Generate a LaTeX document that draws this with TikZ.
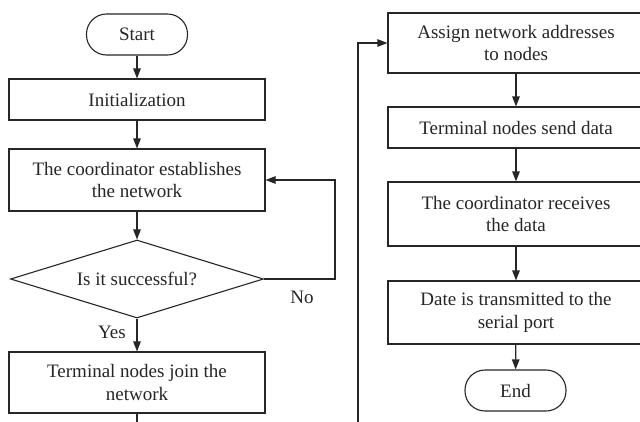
\documentclass[tikz,border=0pt]{standalone}
\usepackage{fontspec}
\setmainfont{Liberation Serif}
\usetikzlibrary{arrows.meta,shapes.geometric}
\begin{document}
\begin{tikzpicture}[x=1pt,y=-1pt,
  every node/.style={font=\fontsize{19}{22.5}\selectfont, text=black!85},
  procbox/.style={draw=black!85, line width=1.1pt, rectangle, minimum width=256pt, align=center, inner sep=0pt},
  termbox/.style={draw=black!85, line width=1.1pt, rectangle, rounded corners=20pt, minimum width=101pt, minimum height=41pt, inner sep=0pt},
  decbox/.style={draw=black!85, line width=1.1pt, diamond, aspect=3.24, minimum width=253pt, minimum height=78pt, inner sep=0pt},
  flow/.style={draw=black!85, line width=1.1pt, -{Triangle[length=10pt,width=7.5pt]}},
  lbl/.style={inner sep=0pt}
]
\useasboundingbox (0,0) rectangle (640,421);
\clip (0,0) rectangle (640,421);
\fill[white] (0,0) rectangle (640,421);

% left column
\node[termbox] (start) at (137,34.5) {Start};
\node[procbox, minimum height=41pt] (init) at (137,99.5) {Initialization};
\node[procbox, minimum height=62pt] (estab) at (137,180) {The coordinator establishes\\the network};
\node[decbox] (dec) at (137,279) {Is it successful?};
\node[procbox, minimum height=61pt] (join) at (137,382.5) {Terminal nodes join the\\network};

% right column
\node[procbox, minimum height=60pt] (assign) at (516,43) {Assign network addresses\\to nodes};
\node[procbox, minimum height=41pt] (send) at (516,127.5) {Terminal nodes send data};
\node[procbox, minimum height=64pt] (recv) at (516,214) {The coordinator receives\\the data};
\node[procbox, minimum height=63pt] (date) at (516,312.5) {Date is transmitted to the\\serial port};
\node[termbox] (end) at (515.5,390.5) {End};

% labels
\node[lbl] (yes) at (112,332) {Yes};
\node[lbl] (no) at (302,297) {No};

% connectors
\draw[flow] (start) -- (init);
\draw[flow] (init) -- (estab);
\draw[flow] (estab) -- (dec);
\draw[flow] (dec) -- (join);
\coordinate (nocorner) at (335,279);
\draw[flow] (dec.east) -- (nocorner) |- (estab.east);
\coordinate (b1) at (137,440);
\coordinate (b2) at (358,440);
\draw[flow] (join.south) -- (b1) -- (b2) |- (assign.west);
\draw[flow] (assign) -- (send);
\draw[flow] (send) -- (recv);
\draw[flow] (recv) -- (date);
\draw[flow] (date) -- (end);
\end{tikzpicture}
\end{document}
